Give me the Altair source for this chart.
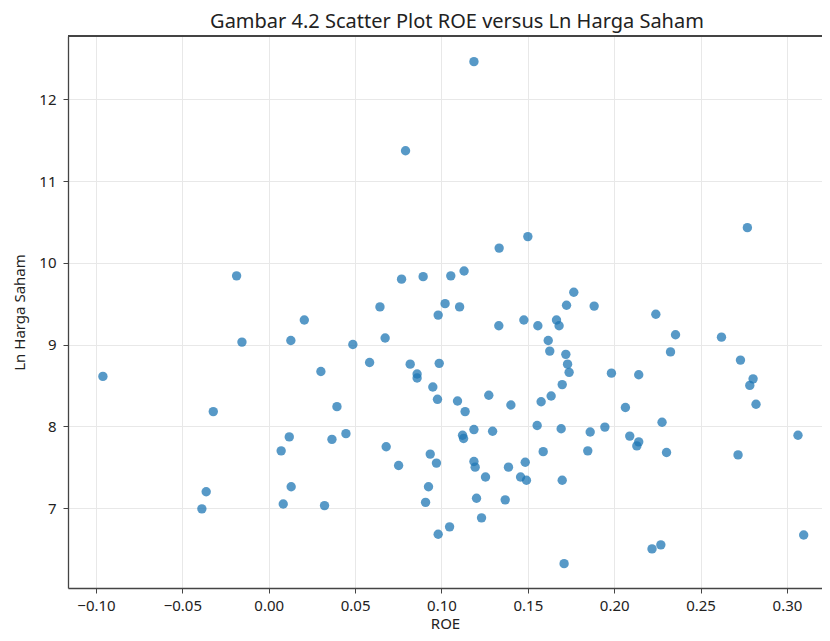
import altair as alt
import pandas as pd

roe = [
    -0.096, -0.0321, -0.0362, -0.0387, -0.0186, -0.0155, 0.0206, 0.0128, 0.0302, 0.0395,
    0.0119, 0.0366, 0.0072, 0.0130, 0.0084, 0.0323, 0.0447, 0.0487, 0.0584, 0.0644,
    0.0674, 0.0680, 0.0752, 0.0769, 0.0792, 0.0819, 0.0859, 0.0859, 0.0894, 0.0908,
    0.0925, 0.0935, 0.0950, 0.0971, 0.0977, 0.0981, 0.0981, 0.0987, 0.1021, 0.1047,
    0.1054, 0.1093, 0.1105, 0.1122, 0.1128, 0.1131, 0.1137, 0.1188, 0.1188, 0.1188,
    0.1195, 0.1203, 0.1232, 0.1255, 0.1274, 0.1296, 0.1332, 0.1334, 0.1369, 0.1388,
    0.1402, 0.1458, 0.1477, 0.1485, 0.1492, 0.1500, 0.1554, 0.1558, 0.1577, 0.1589,
    0.1618, 0.1627, 0.1635, 0.1666, 0.1681, 0.1693, 0.1699, 0.1699, 0.1710, 0.1720,
    0.1724, 0.1730, 0.1739, 0.1766, 0.1847, 0.1861, 0.1884, 0.1946, 0.1984, 0.2065,
    0.2090, 0.2131, 0.2142, 0.2142, 0.2219, 0.2241, 0.2270, 0.2277, 0.2303, 0.2326,
    0.2355, 0.2621, 0.2717, 0.2731, 0.2771, 0.2785, 0.2804, 0.2821, 0.3064, 0.3097,
]
ln_harga = [
    8.61, 8.18, 7.20, 6.99, 9.84, 9.03, 9.30, 9.05, 8.67, 8.24,
    7.87, 7.84, 7.70, 7.26, 7.05, 7.03, 7.91, 9.00, 8.78, 9.46,
    9.08, 7.75, 7.52, 9.80, 11.37, 8.76, 8.64, 8.59, 9.83, 7.07,
    7.26, 7.66, 8.48, 7.55, 8.33, 9.36, 6.68, 8.77, 9.50, 6.77,
    9.84, 8.31, 9.46, 7.89, 7.85, 9.90, 8.18, 12.46, 7.96, 7.57,
    7.50, 7.12, 6.88, 7.38, 8.38, 7.94, 9.23, 10.18, 7.10, 7.50,
    8.26, 7.38, 9.30, 7.56, 7.34, 10.32, 8.01, 9.23, 8.30, 7.69,
    9.05, 8.92, 8.37, 9.30, 9.23, 7.97, 8.51, 7.34, 6.32, 8.88,
    9.48, 8.76, 8.66, 9.64, 7.70, 7.93, 9.47, 7.99, 8.65, 8.23,
    7.88, 7.76, 8.63, 7.81, 6.50, 9.37, 6.55, 8.05, 7.68, 8.91,
    9.12, 9.09, 7.65, 8.81, 10.43, 8.50, 8.58, 8.27, 7.89, 6.67,
]
x_ticks = [-0.10, -0.05, 0.00, 0.05, 0.10, 0.15, 0.20, 0.25, 0.30]
y_ticks = [7, 8, 9, 10, 11, 12]

df = pd.DataFrame({"ROE": roe, "LnHarga": ln_harga})

FONT = "Noto Sans"
W, H = 754, 552

points = (
    alt.Chart(df)
    .mark_circle(size=88, opacity=0.75, color="#1f77b4")
    .encode(
        x=alt.X(
            "ROE:Q",
            title="ROE",
            scale=alt.Scale(domain=[-0.1162, 0.3203], nice=False, zero=False),
            axis=alt.Axis(values=x_ticks, format=".2f"),
        ),
        y=alt.Y(
            "LnHarga:Q",
            title="Ln Harga Saham",
            scale=alt.Scale(domain=[6.022, 12.774], nice=False, zero=False),
            axis=alt.Axis(values=y_ticks, format="d"),
        ),
    )
)

# top spine of the frame (right spine is outside the cropped reference)
top_spine = alt.Chart(df).mark_rule(color="#444444", strokeWidth=1.3).encode(
    x=alt.value(0), x2=alt.value(W), y=alt.value(0)
)

chart = (
    alt.layer(points, top_spine)
    .properties(
        width=W,
        height=H,
        title=alt.TitleParams(
            "Gambar 4.2 Scatter Plot ROE versus Ln Harga Saham",
            fontSize=20,
            font=FONT,
            fontWeight="normal",
            color="#222222",
            anchor="middle",
            offset=3,
            dx=12,
        ),
        autosize=alt.AutoSizeParams(type="none"),
        padding={"left": 60, "top": 28, "right": 0, "bottom": 45},
    )
    .configure_view(stroke=None)
    .configure_axis(
        labelFont=FONT,
        titleFont=FONT,
        labelFontSize=15,
        titleFontSize=15,
        titleFontWeight="normal",
        labelColor="#222222",
        titleColor="#222222",
        domainColor="#444444",
        domainWidth=1.3,
        tickColor="#444444",
        tickSize=5,
        gridColor="#e8e8e8",
        gridWidth=1,
    )
    .configure_axisX(labelPadding=5, titlePadding=3)
    .configure_axisY(labelPadding=7, titlePadding=11)
)

chart.save("out.html", embed_options={"renderer": "svg", "actions": False})
